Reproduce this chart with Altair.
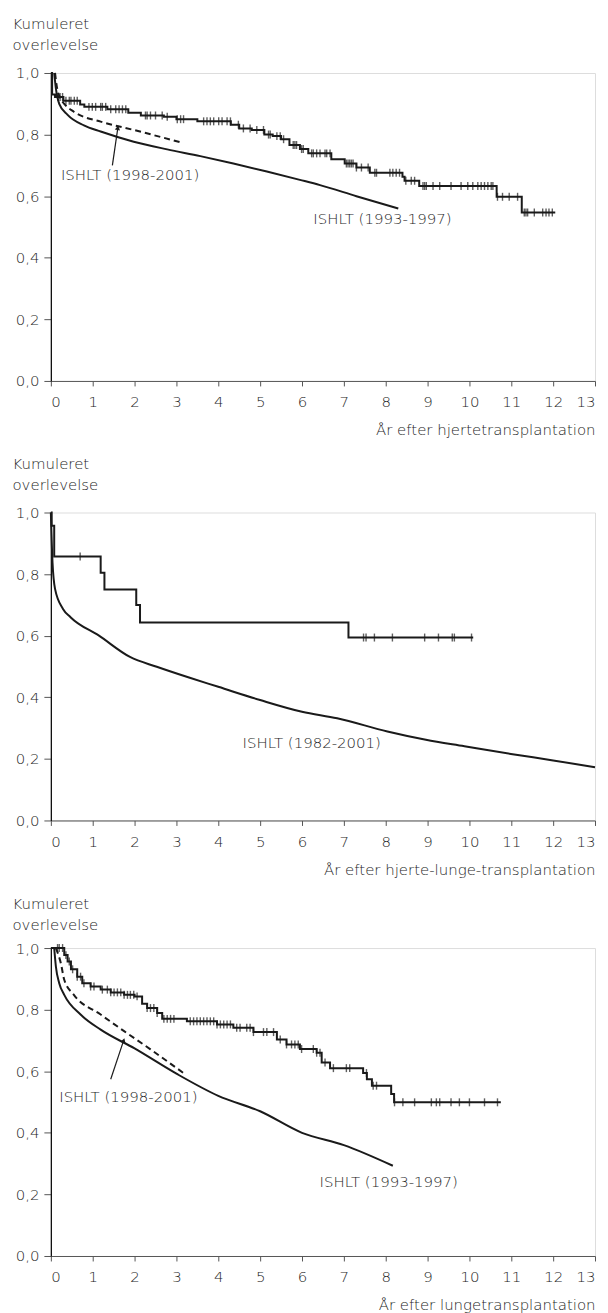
import altair as alt
import pandas as pd

# ---------------- data ----------------
X_TICKS = list(range(0, 14))
Y_TICKS = [0.0, 0.2, 0.4, 0.6, 0.8, 1.0]

# Panel 1: heart
HEART_KM_T = [0, 0.03, 0.1, 0.3, 0.7, 0.8, 1.35, 1.85, 2.15, 2.7, 3.0, 3.5, 4.3, 4.5, 4.8, 5.1,
              5.3, 5.5, 5.7, 5.95, 6.15, 6.7, 7.02, 7.3, 7.62, 8.4, 8.45, 8.8, 10.65, 11.25, 12.05]
HEART_KM_S = [1.0, 0.93, 0.922, 0.91, 0.898, 0.89, 0.882, 0.871, 0.862, 0.858, 0.85, 0.843, 0.832,
              0.82, 0.815, 0.8, 0.795, 0.785, 0.766, 0.753, 0.739, 0.72, 0.706, 0.693, 0.676, 0.663,
              0.65, 0.633, 0.598, 0.547, 0.547]
HEART_CENSOR = [0.17, 0.22, 0.28, 0.36, 0.44, 0.48, 0.56, 0.63, 0.91, 0.99, 1.07, 1.19, 1.23, 1.31,
                1.43, 1.55, 1.63, 1.71, 1.79, 2.26, 2.3, 2.38, 2.5, 2.66, 2.78, 3.02, 3.1, 3.17, 3.65,
                3.73, 3.81, 3.89, 4.01, 4.09, 4.21, 4.29, 4.48, 4.6, 4.76, 4.92, 5.08, 5.2, 5.24, 5.4,
                5.48, 5.56, 5.79, 5.83, 5.87, 5.99, 6.03, 6.23, 6.27, 6.35, 6.43, 6.55, 6.59, 6.67,
                7.06, 7.1, 7.14, 7.18, 7.22, 7.3, 7.42, 7.58, 7.74, 7.78, 8.1, 8.17, 8.25, 8.33, 8.48,
                8.61, 8.69, 8.89, 8.93, 8.97, 9.13, 9.29, 9.56, 9.8, 9.96, 10.08, 10.2, 10.28, 10.36,
                10.44, 10.52, 10.56, 10.67, 10.79, 10.95, 11.15, 11.31, 11.35, 11.39, 11.55, 11.75,
                11.83, 11.9, 11.98]
HEART_9397_T = [0.08, 0.12, 0.2, 0.4, 0.79, 1.19, 1.98, 2.78, 3.57, 4.36, 5.16, 5.95, 6.43, 7.3,
                8.3]
HEART_9397_S = [1.0, 0.95, 0.9, 0.864, 0.83, 0.81, 0.777, 0.752, 0.73, 0.706, 0.68, 0.653, 0.636,
                0.6, 0.56]
HEART_9801_T = [0.1, 0.15, 0.22, 0.32, 0.55, 1.19, 1.98, 3.13]
HEART_9801_S = [1.0, 0.95, 0.92, 0.9, 0.874, 0.842, 0.815, 0.774]

# Panel 2: heart-lung
HL_KM_T = [0, 0.02, 0.08, 1.19, 1.28, 2.04, 2.13, 7.11, 10.09]
HL_KM_S = [1.0, 0.957, 0.857, 0.804, 0.75, 0.70, 0.643, 0.594, 0.594]
HL_CENSOR = [0.70, 7.47, 7.53, 7.73, 8.16, 8.93, 9.26, 9.59, 9.64, 10.05]
HL_ISHLT_T = [0, 0.04, 0.1, 0.29, 0.47, 1.15, 1.89, 2.53, 3.3, 4.0, 5.0, 6.0, 6.84, 8.04, 8.96,
              9.88, 10.99, 12.0, 13.0]
HL_ISHLT_S = [1.0, 0.837, 0.752, 0.687, 0.66, 0.60, 0.531, 0.499, 0.464, 0.434, 0.391, 0.353,
              0.332, 0.289, 0.262, 0.241, 0.216, 0.195, 0.173]

# Panel 3: lung
LUNG_KM_T = [0, 0.32, 0.4, 0.48, 0.63, 0.75, 0.95, 1.19, 1.43, 1.75, 2.0, 2.18, 2.3, 2.54, 2.66,
             3.25, 3.97, 4.36, 4.84, 5.4, 5.63, 5.95, 6.35, 6.47, 6.67, 7.46, 7.55, 7.67, 8.13,
             8.2, 10.75]
LUNG_KM_S = [1.0, 0.977, 0.956, 0.931, 0.907, 0.886, 0.875, 0.865, 0.856, 0.848, 0.843, 0.819,
             0.805, 0.789, 0.77, 0.762, 0.752, 0.741, 0.727, 0.703, 0.687, 0.672, 0.66, 0.628,
             0.61, 0.594, 0.574, 0.553, 0.526, 0.499, 0.499]
LUNG_CENSOR = [0.16, 0.2, 0.28, 0.36, 0.44, 0.52, 0.63, 0.71, 0.79, 0.95, 1.03, 1.23, 1.35, 1.43,
               1.51, 1.59, 1.67, 1.75, 1.83, 1.9, 1.98, 2.06, 2.3, 2.38, 2.46, 2.54, 2.7, 2.78,
               2.86, 2.94, 3.33, 3.41, 3.49, 3.57, 3.65, 3.73, 3.81, 3.89, 3.97, 4.05, 4.13, 4.21,
               4.29, 4.44, 4.52, 4.68, 4.76, 4.84, 5.08, 5.16, 5.32, 5.48, 5.63, 5.75, 5.83, 5.91,
               5.99, 6.27, 6.35, 6.43, 6.55, 6.75, 7.06, 7.14, 7.54, 7.7, 7.78, 8.21, 8.41, 8.69,
               9.09, 9.21, 9.29, 9.56, 9.76, 10.0, 10.36, 10.67]
LUNG_9397_T = [0.08, 0.12, 0.2, 0.32, 0.71, 1.19, 2.0, 3.0, 4.0, 5.0, 6.0, 7.0, 8.17]
LUNG_9397_S = [1.0, 0.94, 0.886, 0.848, 0.784, 0.735, 0.674, 0.592, 0.52, 0.47, 0.40, 0.36, 0.293]
LUNG_9801_T = [0.12, 0.24, 0.32, 0.55, 1.19, 1.75, 2.38, 3.21]
LUNG_9801_S = [1.0, 0.95, 0.897, 0.848, 0.784, 0.73, 0.671, 0.59]

LABEL_9801 = "ISHLT (1998-2001)"
LABEL_9397 = "ISHLT (1993-1997)"
LABEL_8201 = "ISHLT (1982-2001)"
Y_TITLE = ["Kumuleret", "overlevelse"]
X_TITLES = ["År efter hjertetransplantation", "År efter hjerte-lunge-transplantation",
            "År efter lungetransplantation"]

# ---------------- style ----------------
FONT = "DejaVu Sans"
FW = 300
TXT = "#1e1e1e"
INK = "#1a1a1a"
W, H = 546, 309
FS = 15

xs = alt.Scale(domain=[0, 13], nice=False)
ys = alt.Scale(domain=[0, 1], nice=False)


def step_value(ts, ss, t):
    v = ss[0]
    for a, b in zip(ts, ss):
        if a <= t:
            v = b
    return v


def km(ts, ss):
    df = pd.DataFrame({"t": ts, "s": ss})
    return alt.Chart(df).mark_line(interpolate="step-after", color=INK, strokeWidth=2).encode(
        x=alt.X("t:Q", scale=xs), y=alt.Y("s:Q", scale=ys))


def censor(times, ts, ss):
    df = pd.DataFrame({"t": times, "s": [step_value(ts, ss, t) for t in times]})
    return alt.Chart(df).mark_tick(orient="vertical", size=8, thickness=1.4, color=INK).encode(
        x=alt.X("t:Q", scale=xs), y=alt.Y("s:Q", scale=ys))


def curve(ts, ss, dash=None):
    df = pd.DataFrame({"t": ts, "s": ss})
    kw = dict(interpolate="monotone", color=INK, strokeWidth=2)
    if dash:
        kw["strokeDash"] = dash
    return alt.Chart(df).mark_line(**kw).encode(
        x=alt.X("t:Q", scale=xs), y=alt.Y("s:Q", scale=ys))


def label(t, s, text):
    df = pd.DataFrame({"t": [t], "s": [s], "txt": [text]})
    return alt.Chart(df).mark_text(align="left", baseline="middle", font=FONT, fontSize=FS,
                                   fontWeight=FW, color=TXT).encode(
        x=alt.X("t:Q", scale=xs), y=alt.Y("s:Q", scale=ys), text="txt:N")


def arrow(t1, s1, t2, s2, ang):
    df = pd.DataFrame({"t": [t1], "s": [s1], "t2": [t2], "s2": [s2]})
    line = alt.Chart(df).mark_rule(color=INK, strokeWidth=1.2).encode(
        x=alt.X("t:Q", scale=xs), y=alt.Y("s:Q", scale=ys), x2="t2:Q", y2="s2:Q")
    head = alt.Chart(df).mark_point(shape="triangle-up", filled=True, size=28, color=INK,
                                    opacity=1, angle=ang).encode(
        x=alt.X("t2:Q", scale=xs), y=alt.Y("s2:Q", scale=ys))
    return line + head


def base(xtitle, ytitle_y):
    df = pd.DataFrame({"t": [0], "s": [0]})
    return alt.Chart(df).mark_point(opacity=0).encode(
        x=alt.X("t:Q", scale=xs, axis=alt.Axis(
            values=X_TICKS, format="d", grid=False, domainColor="#555", tickColor="#555",
            tickSize=5, labelPadding=9, labelFont=FONT, labelFontSize=FS, labelFontWeight=FW,
            labelColor=TXT,
            title=xtitle, titleFont=FONT, titleFontSize=FS, titleFontWeight=FW,
            titleColor=TXT, titleAlign="right", titleAnchor="end", titleBaseline="alphabetic",
            titleX=W, titleY=54)),
        y=alt.Y("s:Q", scale=ys, axis=alt.Axis(
            values=Y_TICKS, labelExpr="replace(format(datum.value, '.1f'), '.', ',')",
            grid=False, domainColor="#111", domainWidth=1.3, tickColor="#555", tickSize=7,
            labelPadding=5, labelFont=FONT, labelFontSize=FS, labelFontWeight=FW,
            labelColor=TXT,
            title=Y_TITLE, titleFont=FONT, titleFontSize=FS, titleFontWeight=FW,
            titleColor=TXT, titleAngle=0, titleAlign="left", titleBaseline="alphabetic",
            titleLineHeight=21, titleX=-39, titleY=ytitle_y)),
    )


p1 = alt.layer(
    base(X_TITLES[0], -45),
    curve(HEART_9397_T, HEART_9397_S),
    curve(HEART_9801_T, HEART_9801_S, dash=[6, 4]),
    km(HEART_KM_T, HEART_KM_S),
    censor(HEART_CENSOR, HEART_KM_T, HEART_KM_S),
    arrow(1.47, 0.70, 1.6, 0.822, 11),
    label(0.24, 0.669, LABEL_9801),
    label(6.27, 0.525, LABEL_9397),
).properties(width=W, height=H)

p2 = alt.layer(
    base(X_TITLES[1], -44),
    curve(HL_ISHLT_T, HL_ISHLT_S),
    km(HL_KM_T, HL_KM_S),
    censor(HL_CENSOR, HL_KM_T, HL_KM_S),
    label(4.58, 0.252, LABEL_8201),
).properties(width=W, height=H)

p3 = alt.layer(
    base(X_TITLES[2], -40),
    curve(LUNG_9397_T, LUNG_9397_S),
    curve(LUNG_9801_T, LUNG_9801_S, dash=[6, 4]),
    km(LUNG_KM_T, LUNG_KM_S),
    censor(LUNG_CENSOR, LUNG_KM_T, LUNG_KM_S),
    arrow(1.43, 0.574, 1.74, 0.70, 18),
    label(0.2, 0.515, LABEL_9801),
    label(6.42, 0.241, LABEL_9397),
).properties(width=W, height=H)

chart = alt.vconcat(p1, p2, p3, spacing=17).properties(
    padding={"left": 3, "top": 5, "right": 0, "bottom": 0}
).configure_view(stroke=None).configure(font=FONT)

chart.save("out.html", embed_options={"renderer": "svg", "actions": False})
